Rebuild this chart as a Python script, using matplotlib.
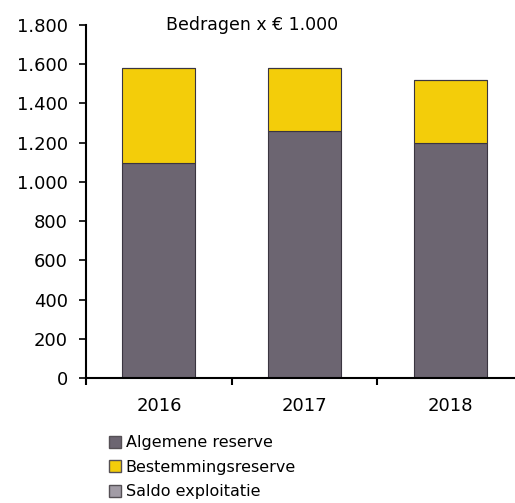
import numpy as np
import matplotlib.pyplot as plt
from matplotlib.lines import Line2D

# --- Data (bedragen x € 1.000) ---
jaren = ["2016", "2017", "2018"]
algemene_reserve = [1095, 1262, 1200]
bestemmingsreserve = [485, 320, 318]
saldo_exploitatie = [0, 0, 0]

series_namen = ["Algemene reserve", "Bestemmingsreserve", "Saldo exploitatie"]
kleuren = ["#6c6571", "#f3cd0a", "#a29ca6"]

fig = plt.figure(figsize=(5.15, 5.03), dpi=100)
ax = fig.add_axes([0.167, 0.2485, 0.849, 0.7018])

x = np.arange(len(jaren))
breedte = 0.5
bodem = np.zeros(len(jaren))
for waarden, kleur in zip([algemene_reserve, bestemmingsreserve, saldo_exploitatie], kleuren):
    ax.bar(x, waarden, breedte, bottom=bodem, color=kleur, edgecolor="#3a3540", linewidth=0.8)
    bodem += np.array(waarden)

ax.set_xlim(-0.5, 2.5)
ax.set_ylim(0, 1800)
ax.set_yticks(np.arange(0, 1801, 200))
ax.set_yticklabels([f"{v:,}".replace(",", ".") for v in range(0, 1801, 200)], fontsize=13)
ax.set_xticks(x)
ax.set_xticklabels(jaren, fontsize=13)
ax.set_xticks([-0.5, 0.5, 1.5, 2.5], minor=True)
ax.tick_params(axis="x", which="major", length=0, pad=14)
ax.tick_params(axis="x", which="minor", length=5, width=1.5, direction="out")
ax.tick_params(axis="y", length=5, width=1.2, pad=8)

for kant in ["top", "right"]:
    ax.spines[kant].set_visible(False)
ax.spines["left"].set_linewidth(1.5)
ax.spines["bottom"].set_linewidth(1.5)

ax.text(0.38, 1.0, "Bedragen x € 1.000", transform=ax.transAxes,
        ha="center", va="center", fontsize=12.5)

handles = [Line2D([], [], marker="s", linestyle="none", markersize=8,
                  markerfacecolor=k, markeredgecolor="#555055") for k in kleuren]
fig.legend(handles, series_namen, loc="upper left", bbox_to_anchor=(0.21, 0.135),
           frameon=False, fontsize=11.5, handletextpad=0.3, labelspacing=0.6,
           handlelength=0.8, borderpad=0, borderaxespad=0)

fig.savefig("out.png", dpi=100)
